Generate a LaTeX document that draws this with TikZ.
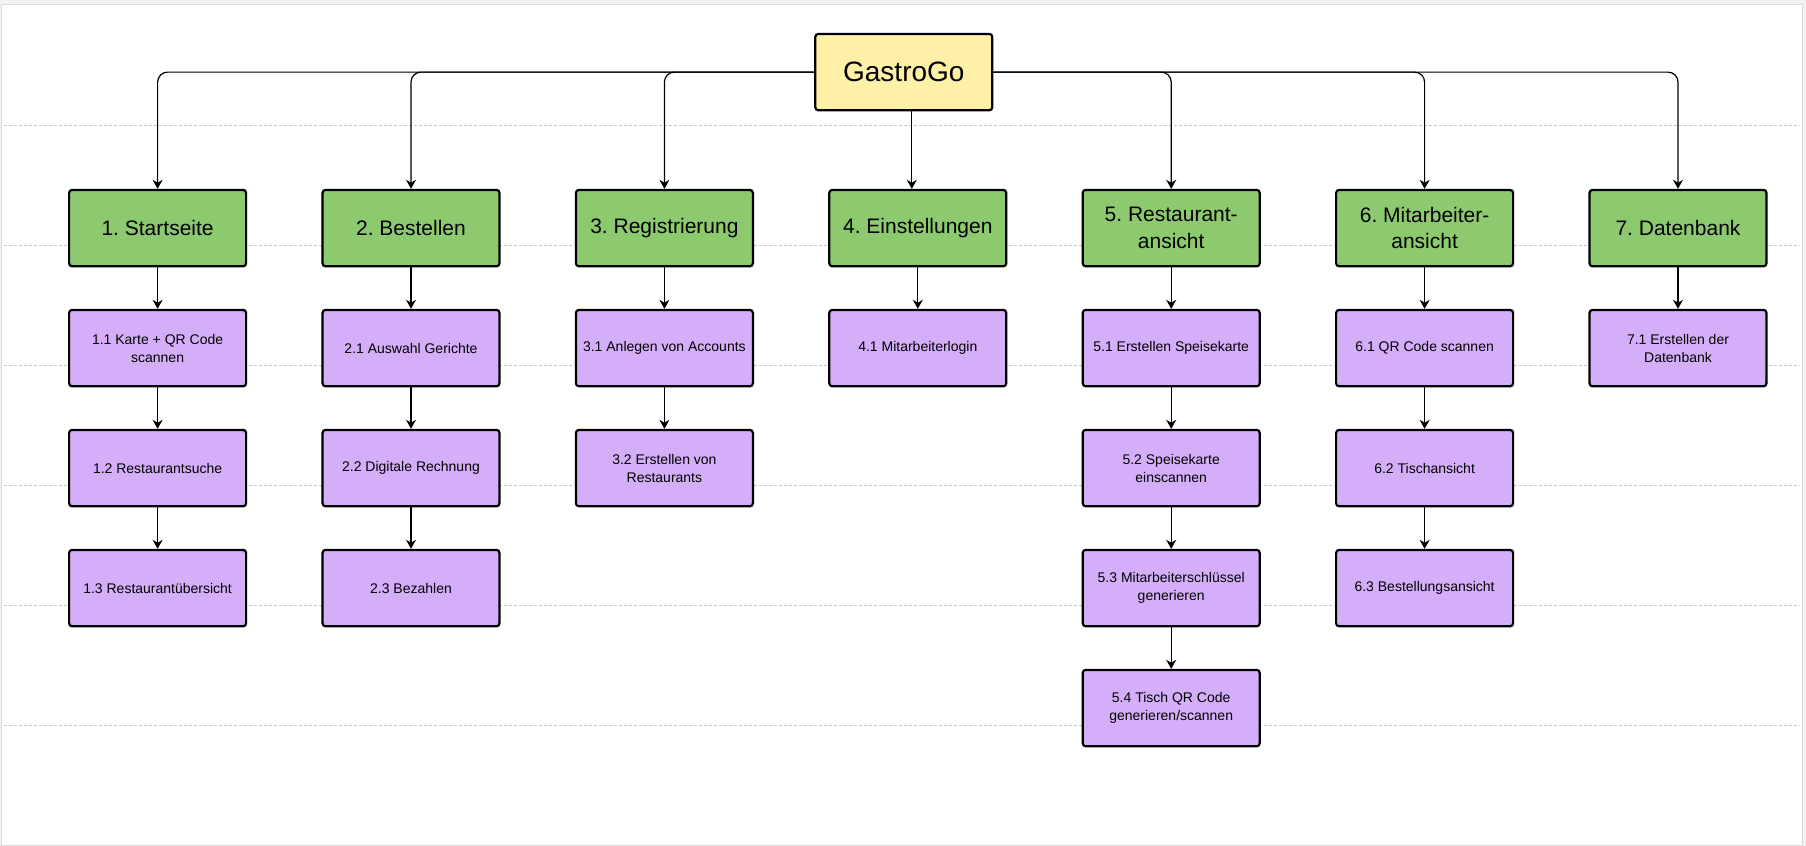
\documentclass[tikz,border=0pt]{standalone}
\usepackage{fontspec}
\setmainfont{Liberation Sans}
\usetikzlibrary{arrows.meta,positioning}
\definecolor{rootyellow}{HTML}{FFF0A8}
\definecolor{areagreen}{HTML}{8DC96F}
\definecolor{taskpurple}{HTML}{D5AEF9}
\frenchspacing

\begin{document}
\begin{tikzpicture}[
    node distance=20.7pt and 37.1pt,
    box/.style={draw=black, line width=1.1pt, rounded corners=1.5pt, align=center,
        minimum height=38.2pt, minimum width=88.5pt, inner sep=2pt},
    root/.style={box, fill=rootyellow, font=\fontsize{14}{17}\selectfont},
    area/.style={box, fill=areagreen, font=\fontsize{10.5}{13.3}\selectfont},
    task/.style={box, fill=taskpurple, font=\fontsize{7}{9}\selectfont},
    flow/.style={-{Stealth[length=4.5pt, width=5pt]}, line width=0.6pt, draw=black},
    guide/.style={draw=black!22, line width=0.5pt, dash pattern=on 1.5pt off 1pt}
]
\fill[black!5] (0,0) rectangle (903pt,-423pt);
\draw[black!15, fill=white] (0.5pt,-2pt) rectangle (901pt,-422.5pt);
\foreach \y in {62.5,122.5,182.5,242.5,302.5,362.5}
    \draw[guide] (2pt,-\y pt) -- (900pt,-\y pt);

\node[area, anchor=north west] (start) at (34pt,-94.4pt) {1. Startseite};
\node[area, right=of start] (order) {2. Bestellen};
\node[area, right=of order] (register) {3. Registrierung};
\node[area, right=of register] (settings) {4. Einstellungen};
\node[area, right=of settings] (restaurant) {5. Restaurant-\\ansicht};
\node[area, right=of restaurant] (staff) {6. Mitarbeiter-\\ansicht};
\node[area, right=of staff] (database) {7. Datenbank};
\node[root, above=38.7pt of settings, xshift=-7pt] (root) {GastroGo};

\node[task, below=of start] (start1) {1.1 Karte + QR Code\\scannen};
\node[task, below=of start1] (start2) {1.2 Restaurantsuche};
\node[task, below=of start2] (start3) {1.3 Restaurantübersicht};
\node[task, below=of order] (order1) {2.1 Auswahl Gerichte};
\node[task, below=of order1] (order2) {2.2 Digitale Rechnung};
\node[task, below=of order2] (order3) {2.3 Bezahlen};
\node[task, below=of register] (register1) {3.1 Anlegen von Accounts};
\node[task, below=of register1] (register2) {3.2 Erstellen von\\Restaurants};
\node[task, below=of settings] (settings1) {4.1 Mitarbeiterlogin};
\node[task, below=of restaurant] (restaurant1) {5.1 Erstellen Speisekarte};
\node[task, below=of restaurant1] (restaurant2) {5.2 Speisekarte\\einscannen};
\node[task, below=of restaurant2] (restaurant3) {5.3 Mitarbeiterschlüssel\\generieren};
\node[task, below=of restaurant3] (restaurant4) {5.4 Tisch QR Code\\generieren/scannen};
\node[task, below=of staff] (staff1) {6.1 QR Code scannen};
\node[task, below=of staff1] (staff2) {6.2 Tischansicht};
\node[task, below=of staff2] (staff3) {6.3 Bestellungsansicht};
\node[task, below=of database] (database1) {7.1 Erstellen der\\Datenbank};

\draw[flow, rounded corners=5pt] (root.west) -| (start.north);
\draw[flow, rounded corners=5pt] (root.west) -| (order.north);
\draw[flow, rounded corners=5pt] (root.west) -| (register.north);
\draw[flow] ([xshift=-3pt]settings.north |- root.south) -- ([xshift=-3pt]settings.north);
\draw[flow, rounded corners=5pt] (root.east) -| (restaurant.north);
\draw[flow, rounded corners=5pt] (root.east) -| (staff.north);
\draw[flow, rounded corners=5pt] (root.east) -| (database.north);

\draw[flow] (start) -- (start1);
\draw[flow] (start1) -- (start2);
\draw[flow] (start2) -- (start3);
\draw[flow] (order) -- (order1);
\draw[flow] (order1) -- (order2);
\draw[flow] (order2) -- (order3);
\draw[flow] (register) -- (register1);
\draw[flow] (register1) -- (register2);
\draw[flow] (settings) -- (settings1);
\draw[flow] (restaurant) -- (restaurant1);
\draw[flow] (restaurant1) -- (restaurant2);
\draw[flow] (restaurant2) -- (restaurant3);
\draw[flow] (restaurant3) -- (restaurant4);
\draw[flow] (staff) -- (staff1);
\draw[flow] (staff1) -- (staff2);
\draw[flow] (staff2) -- (staff3);
\draw[flow] (database) -- (database1);
\end{tikzpicture}
\end{document}
